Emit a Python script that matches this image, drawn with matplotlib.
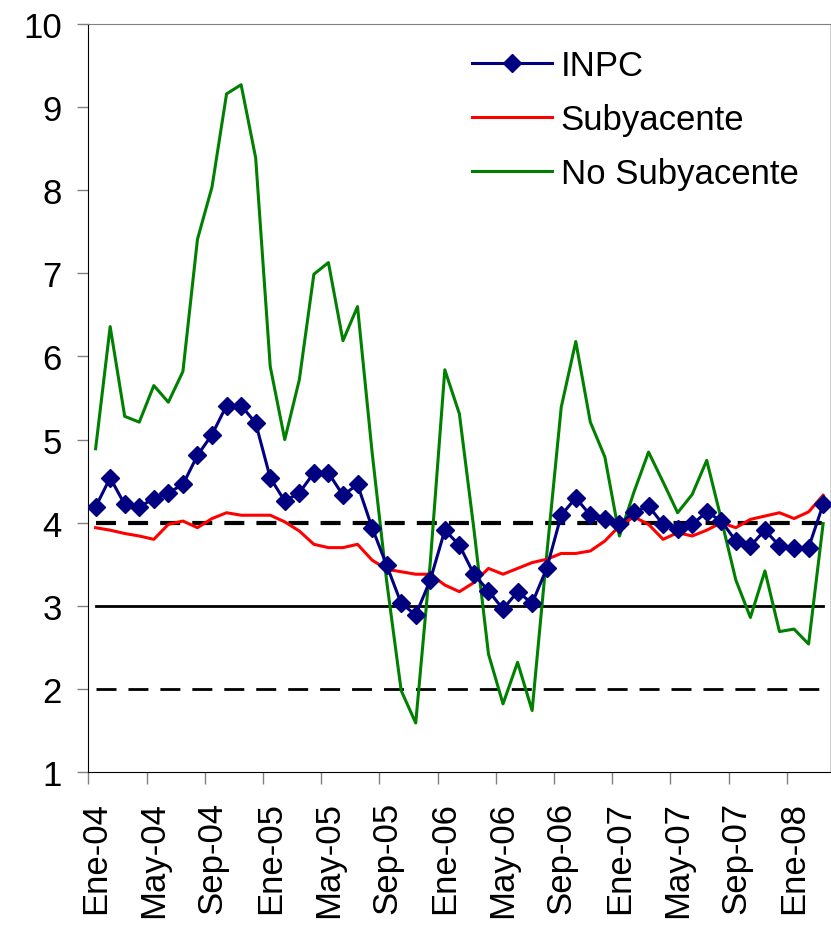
import numpy as np
import matplotlib
matplotlib.use('Agg')
import matplotlib.pyplot as plt

plt.rcParams['font.family'] = ['Liberation Sans', 'DejaVu Sans']

# monthly annual inflation, Ene-04 .. Mar-08
meses = ['Ene', 'Feb', 'Mar', 'Abr', 'May', 'Jun', 'Jul', 'Ago', 'Sep', 'Oct', 'Nov', 'Dic']
fechas = ['%s-%02d' % (meses[m % 12], 4 + m // 12) for m in range(51)]

inpc = [4.19, 4.54, 4.22, 4.19, 4.29, 4.36, 4.46, 4.81, 5.06, 5.41,
        5.41, 5.20, 4.54, 4.26, 4.36, 4.60, 4.60, 4.33, 4.46, 3.94,
        3.49, 3.03, 2.89, 3.31, 3.91, 3.73, 3.38, 3.18, 2.96, 3.17,
        3.03, 3.45, 4.09, 4.30, 4.09, 4.04, 3.98, 4.13, 4.20, 3.98,
        3.93, 3.98, 4.13, 4.02, 3.78, 3.72, 3.91, 3.72, 3.70, 3.70,
        4.22]
subyacente = [3.94, 3.91, 3.87, 3.84, 3.80, 3.98, 4.02, 3.94, 4.05, 4.12,
              4.09, 4.09, 4.09, 4.01, 3.90, 3.74, 3.70, 3.70, 3.74, 3.55,
              3.44, 3.41, 3.38, 3.38, 3.25, 3.17, 3.28, 3.45, 3.38, 3.45,
              3.52, 3.56, 3.63, 3.63, 3.66, 3.78, 3.96, 4.07, 3.98, 3.80,
              3.88, 3.84, 3.91, 4.00, 3.94, 4.04, 4.08, 4.12, 4.05, 4.13,
              4.33]
no_subyacente = [4.89, 6.36, 5.28, 5.21, 5.65, 5.45, 5.82, 7.41, 8.04, 9.16,
                 9.27, 8.39, 5.88, 5.00, 5.72, 6.99, 7.13, 6.19, 6.60, 4.85,
                 3.30, 1.98, 1.59, 3.52, 5.84, 5.31, 3.92, 2.42, 1.82, 2.32,
                 1.74, 3.61, 5.39, 6.18, 5.21, 4.79, 3.84, 4.37, 4.85, 4.49,
                 4.12, 4.34, 4.75, 4.04, 3.31, 2.86, 3.42, 2.69, 2.72, 2.54,
                 3.99]

meta = 3.0          # inflation target
banda = [2.0, 4.0]  # variability band

x = np.arange(len(fechas))

fig = plt.figure(figsize=(8.31, 9.28), dpi=100)
ax = fig.add_axes([0.1063, 0.167, 0.893, 0.806])

# target and band
ax.plot(x, np.full(len(x), banda[1]), color='black', lw=3, dashes=(4.8, 2.9), zorder=2)
ax.plot(x, np.full(len(x), meta), color='black', lw=2, zorder=2)
ax.plot(x, np.full(len(x), banda[0]), color='black', lw=2, dashes=(7.2, 4.3), zorder=2)

ax.plot(x, no_subyacente, color='#008000', lw=2.2, label='No Subyacente', zorder=3)
ax.plot(x, subyacente, color='#ff0000', lw=2.2, label='Subyacente', zorder=3)
ax.plot(x, inpc, color='#000080', lw=2.2, marker='D', ms=9.5, label='INPC', zorder=4)

ax.set_xlim(-0.5, len(x) - 0.5)
ax.set_ylim(1, 10)
ax.set_yticks(range(1, 11))

# tick marks between categories, labels on the category
ax.set_xticks(np.arange(0, len(x), 4) - 0.5)
ax.set_xticklabels([])
ax.set_xticks(np.arange(0, len(x), 4), minor=True)
ax.set_xticklabels([fechas[i] for i in range(0, len(x), 4)], minor=True, rotation=90)
ax.tick_params(axis='x', which='major', length=8.5, width=1, color='#808080')
ax.tick_params(axis='x', which='minor', length=0, pad=21, labelsize=25)
ax.tick_params(axis='y', length=8, width=1, color='#808080', pad=11, labelsize=25)

ax.spines['left'].set_color('black')
ax.spines['bottom'].set_color('black')
ax.spines['top'].set_color('#808080')
ax.spines['right'].set_color('#d0d0d0')

h, l = ax.get_legend_handles_labels()
fig.legend(h[::-1], l[::-1], loc='upper left', bbox_to_anchor=(472 / 831, 1 - 50 / 928),
           frameon=False, fontsize=25, handlelength=2.3, handletextpad=0.25,
           labelspacing=0.6, borderpad=0, borderaxespad=0)

plt.savefig('out.png', dpi=100)
